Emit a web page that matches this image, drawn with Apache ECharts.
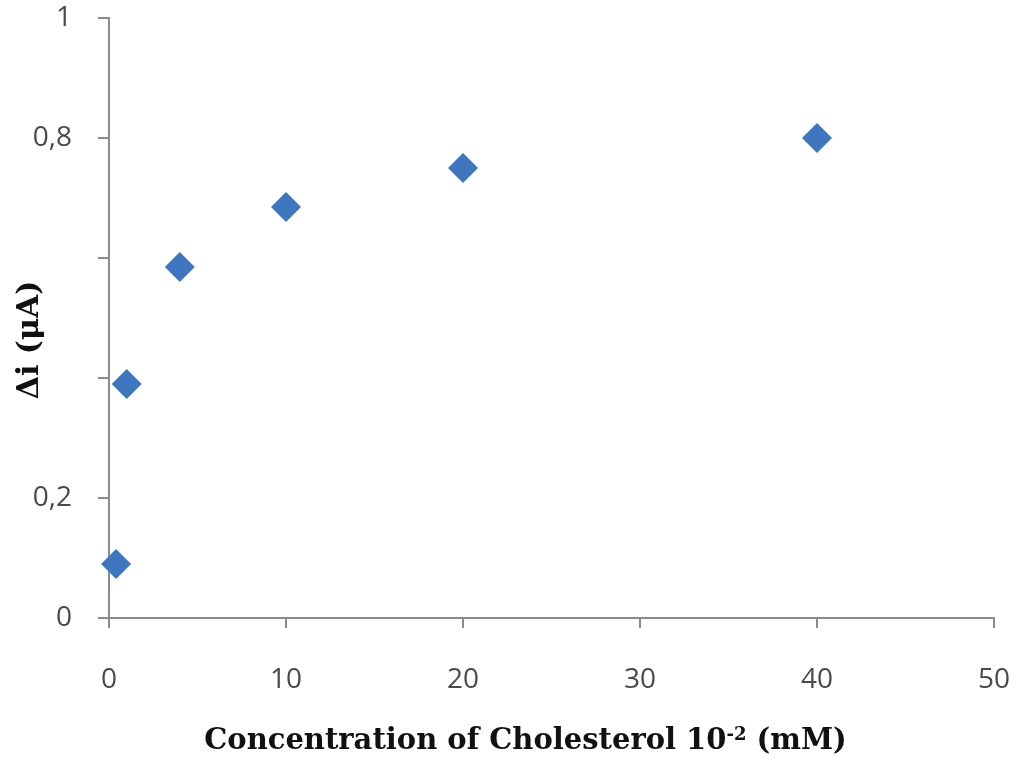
<!DOCTYPE html>
<html>
<head>
<meta charset="utf-8">
<script src="https://cdn.jsdelivr.net/npm/echarts@6/dist/echarts.min.js"></script>
<style>
html,body{margin:0;padding:0;background:#fff;}
#chart{width:1024px;height:759px;}
</style>
</head>
<body>
<div id="chart"></div>
<script>
// Data
const concentration = [0.4, 1, 4, 10, 20, 40];        // Concentration of Cholesterol 10^-2 (mM)
const deltaI = [0.09, 0.39, 0.585, 0.685, 0.75, 0.8]; // Δi (μA)
const xTickLabels = ['0', '10', '20', '30', '40', '50'];
const yTickValues = [0, 0.2, 0.4, 0.6, 0.8, 1];
const yTickLabels = ['0', '0,2', '', '', '0,8', '1'];

const points = concentration.map((x, i) => [x, deltaI[i]]);

const chart = echarts.init(document.getElementById('chart'));
chart.setOption({
  animation: false,
  backgroundColor: '#ffffff',
  grid: { left: 109, right: 30, top: 18, bottom: 141, containLabel: false, outerBoundsMode: 'none' },
  xAxis: {
    type: 'value',
    min: 0, max: 50, interval: 10,
    axisLine: { show: true, onZero: false, lineStyle: { color: '#8a8a8a', width: 2 } },
    axisTick: { show: true, inside: false, length: 10, lineStyle: { color: '#8a8a8a', width: 2 } },
    splitLine: { show: false },
    axisLabel: {
      margin: 48, fontSize: 28, color: '#4a4a4a', fontFamily: 'Open Sans',
      formatter: v => xTickLabels[Math.round(v / 10)]
    },
    name: 'Concentration of Cholesterol 10{sup|-2} (mM)',
    nameLocation: 'middle',
    nameGap: 108,
    nameMoveOverlap: false,
    nameTextStyle: {
      fontFamily: 'DejaVu Serif', fontWeight: 'bold', fontSize: 29, color: '#111',
      padding: [0, 52, 0, 0],
      rich: {
        sup: { fontFamily: 'DejaVu Serif', fontWeight: 'bold', fontSize: 18, color: '#111', verticalAlign: 'top', padding: [0, 0, 12, 0] }
      }
    }
  },
  yAxis: {
    type: 'value',
    min: 0, max: 1, interval: 0.2,
    axisLine: { show: true, lineStyle: { color: '#8a8a8a', width: 2 } },
    axisTick: { show: true, inside: false, length: 11, lineStyle: { color: '#8a8a8a', width: 2 } },
    splitLine: { show: false },
    axisLabel: {
      margin: 37, fontSize: 28, color: '#4a4a4a', fontFamily: 'Open Sans',
      formatter: v => {
        const idx = yTickValues.findIndex(t => Math.abs(t - v) < 1e-6);
        return idx >= 0 ? yTickLabels[idx] : '';
      }
    },
    name: 'Δi (μA)',
    nameLocation: 'middle',
    nameRotate: 90,
    nameGap: 64,
    nameMoveOverlap: false,
    nameTextStyle: {
      fontFamily: 'DejaVu Serif', fontWeight: 'bold', fontSize: 30, color: '#111',
      padding: [0, 44, 0, 0]
    }
  },
  series: [{
    type: 'scatter',
    data: points,
    symbol: 'diamond',
    symbolSize: 30,
    itemStyle: { color: '#3e77c0', opacity: 1 }
  }]
});
</script>
</body>
</html>
